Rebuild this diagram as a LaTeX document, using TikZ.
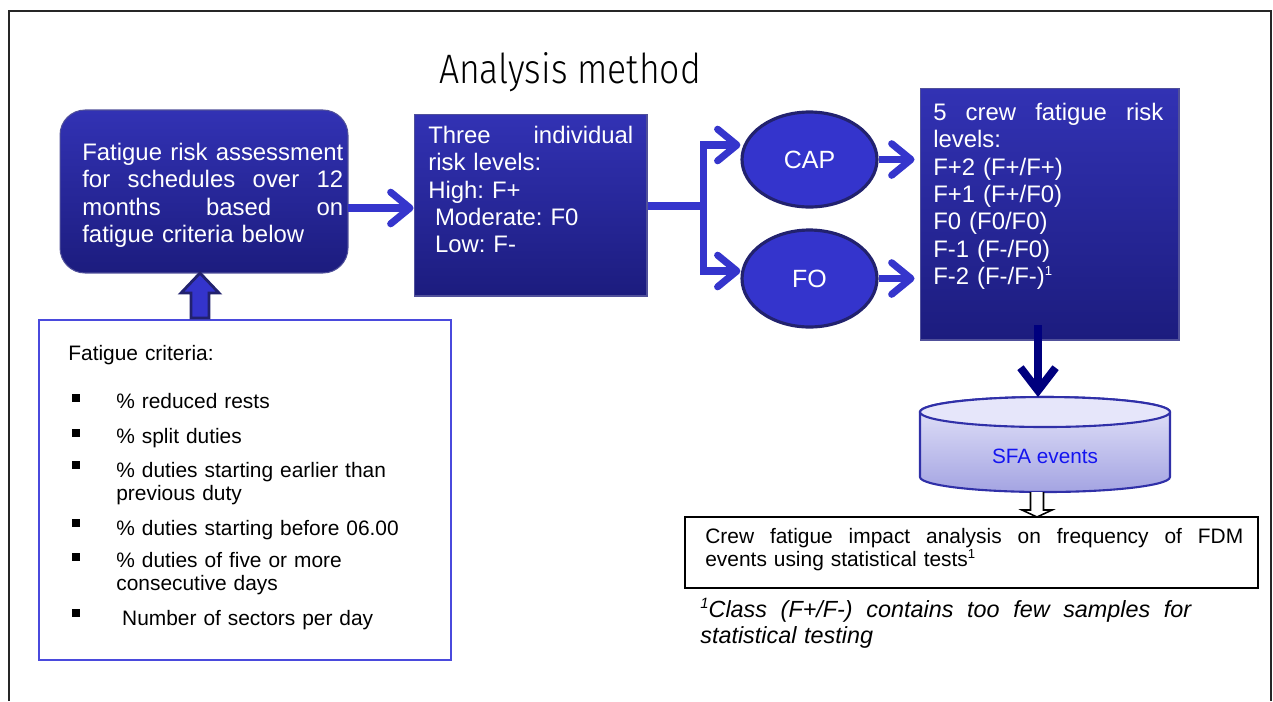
\documentclass[tikz,border=0pt]{standalone}
\usepackage{graphicx}
\usepackage{fontspec}
\setmainfont{Liberation Sans}
\IfFontExistsTF{Fira Sans Light}{\newfontfamily\titlefont{Fira Sans Light}}{\newfontfamily\titlefont{Liberation Sans}}
\usetikzlibrary{arrows.meta,shapes.geometric,calc}
\frenchspacing
\newcommand{\fnmark}{\raisebox{0.75ex}{\fontsize{7.5}{8}\selectfont 1}}
\definecolor{boxtop}{HTML}{3232B4}
\definecolor{boxbot}{HTML}{1C1C7E}
\definecolor{boxedge}{HTML}{50509A}
\definecolor{arrblue}{HTML}{3535CC}
\definecolor{ellfill}{HTML}{3434CC}
\definecolor{elledge}{HTML}{22226E}
\definecolor{navyc}{HTML}{00007E}
\definecolor{critedge}{HTML}{4A4ADD}
\definecolor{cyltopcol}{HTML}{E6E6FA}
\definecolor{cylbotcol}{HTML}{A4A4E2}
\definecolor{cyledge}{HTML}{3030A8}
\definecolor{sfablue}{HTML}{1414F0}
\begin{document}
\begin{tikzpicture}[x=0.02cm,y=-0.02cm,
  bluebox/.style={draw=boxedge, line width=0.6pt, top color=boxtop, bottom color=boxbot, inner sep=0pt},
  boxtext/.style={text=white, inner sep=0pt, align=left, anchor=base west, font=\fontsize{13.6}{15.65}\selectfont},
  ell/.style={ellipse, draw=elledge, line width=1.8pt, fill=ellfill, text=white, font=\fontsize{14.2}{16}\selectfont, minimum width=2.7cm, minimum height=1.9cm, inner sep=0pt},
  arr/.style={draw=arrblue, line width=4pt, -{Straight Barb[length=11pt,width=18pt,round]}},
  conn/.style={draw=arrblue, line width=4pt},
  darr/.style={draw=navyc, line width=4.5pt, -{Straight Barb[length=13pt,width=20pt]}},
  crittext/.style={inner sep=0pt, anchor=base west, text width=7cm, align=left, font=\fontsize{11.9}{13.3}\selectfont},
  bullet/.style={fill=black, inner sep=0pt, minimum size=0.17cm},
  blockarr/.style={draw=elledge, line width=1.6pt, fill=ellfill, line join=miter},
  hollowarr/.style={draw=black, line width=0.9pt, fill=white},
  plainbox/.style={draw=black, line width=1.1pt, inner sep=0pt}
]
\useasboundingbox (0,0) rectangle (1273,701);
% frame
\draw[line width=1.3pt, draw=black!85] (9,701) -- (9,11) -- (1271,11) -- (1271,701);
% title
\node[anchor=base, inner sep=0pt] (title) at (570,83) {\resizebox{5.24cm}{0.62cm}{\titlefont Analysis method}};

% box 1
\node[bluebox, rounded corners=0.5cm, minimum width=5.76cm, minimum height=3.26cm] (box1) at (204,191.5) {};
\node[boxtext, text width=5.22cm] (box1t) at (82,160) {Fatigue\hfill risk\hfill assessment\\for\hfill schedules\hfill over\hfill 12\\months\hfill based\hfill on\\fatigue criteria below};

% box 2
\node[bluebox, minimum width=4.66cm, minimum height=3.64cm] (box2) at (530.5,205) {};
\node[boxtext, text width=4.1cm] (box2t) at (428,143) {Three\hfill individual\\risk levels:\\High: F+\\\hspace*{0.28em}Moderate: F0\\\hspace*{0.28em}Low: F-};

% ellipses
\node[ell] (cap) at (809.5,159.5) {CAP};
\node[ell, minimum height=1.94cm] (fo) at (809.5,278.5) {FO};

% box 3
\node[bluebox, minimum width=5.18cm, minimum height=5.04cm] (box3) at (1049.5,214) {};
\node[boxtext, text width=4.6cm] (box3t) at (933,120) {5\hfill crew\hfill fatigue\hfill risk\\levels:\\F+2 (F+/F+)\\F+1 (F+/F0)\\F0 (F0/F0)\\F-1 (F-/F0)\\F-2 (F-/F-)\fnmark};

% connectors top row
\coordinate (a1s) at (348,208);
\draw[arr] (a1s) -- (a1s -| box2.west);
\coordinate (sp) at (703.5,206);
\coordinate (spT) at (703.5,145);
\coordinate (spB) at (703.5,271);
\draw[conn] (box2.east |- sp) -- (sp);
\draw[conn, line cap=rect] (spT) -- (spB);
\draw[arr] (spT) -- (spT -| cap.west);
\draw[arr] (spB) -- (spB -| fo.west);
\draw[arr, shorten >=0.1cm] (cap.east) -- (cap.east -| box3.west);
\draw[arr, shorten >=0.1cm] (fo.east) -- (fo.east -| box3.west);

% cylinder
\path[top color=cyltopcol, bottom color=cylbotcol, draw=cyledge, line width=1.2pt]
  (920,412) -- (920,477) arc[start angle=180, end angle=360, x radius=2.5cm, y radius=0.3cm]
  -- (1170,412) arc[start angle=0, end angle=180, x radius=2.5cm, y radius=0.3cm] -- cycle;
\path[fill=cyltopcol, draw=cyledge, line width=1.2pt] (1045,412) ellipse [x radius=2.5cm, y radius=0.3cm];
\node[inner sep=0pt, text=sfablue, font=\fontsize{11.8}{14}\selectfont] (sfa) at (1045,456) {SFA events};

% dark arrow box3 -> cylinder
\coordinate (dtop) at (1038,325);
\coordinate (cyltopc) at (1045,397);
\draw[darr] (dtop) -- (dtop |- cyltopc);

% crew box
\node[plainbox, minimum width=11.46cm, minimum height=1.42cm] (crew) at (971.5,552.5) {};
\node[inner sep=0pt, anchor=base west, text width=10.76cm, align=left, font=\fontsize{11.9}{13.6}\selectfont] (crewt) at (705,543) {Crew\hfill fatigue\hfill impact\hfill analysis\hfill on\hfill frequency\hfill of\hfill FDM\\events using statistical tests\fnmark};

% hollow arrow cylinder -> crew
\coordinate (dh) at (1037,492);
\draw[hollowarr, shift={(dh)}] (-6.5,0) -- (-6.5,18) -- (-15,18) -- (0,25) -- (15,18) -- (6.5,18) -- (6.5,0);

% footnote
\node[inner sep=0pt, anchor=base west, text width=9.82cm, align=left, font=\itshape\fontsize{13.3}{15}\selectfont] (fn) at (700,617) {\raisebox{0.7ex}{\fontsize{8.5}{9}\selectfont 1}Class\hfill (F+/F-)\hfill contains\hfill too\hfill few\hfill samples\hfill for\\statistical testing};

% criteria box
\node[draw=critedge, line width=1.2pt, minimum width=8.24cm, minimum height=6.8cm, inner sep=0pt] (crit) at (245,490) {};
\node[crittext] (crith) at (68,360) {Fatigue criteria:};
\node[bullet] (b1) at (76,398) {};
\node[bullet] (b2) at (76,433) {};
\node[bullet] (b3) at (76,465) {};
\node[bullet] (b4) at (76,523) {};
\node[bullet] (b5) at (76,557) {};
\node[bullet] (b6) at (76,613) {};
\node[crittext] (c1) at (116,408) {\% reduced rests};
\node[crittext] (c2) at (116,443) {\% split duties};
\node[crittext] (c3) at (116,477) {\% duties starting earlier than\\previous duty};
\node[crittext] (c4) at (116,535) {\% duties starting before 06.00};
\node[crittext] (c5) at (116,567) {\% duties of five or more\\consecutive days};
\node[crittext] (c6) at (116,625) {\hspace*{0.28em}Number of sectors per day};

% block arrow criteria -> box1
\coordinate (ub) at (200,318);
\draw[blockarr, shift={(ub)}] (-9,0) -- (-9,-25) -- (-19,-25) -- (0,-45) -- (19,-25) -- (9,-25) -- (9,0) -- cycle;
\end{tikzpicture}
\end{document}
